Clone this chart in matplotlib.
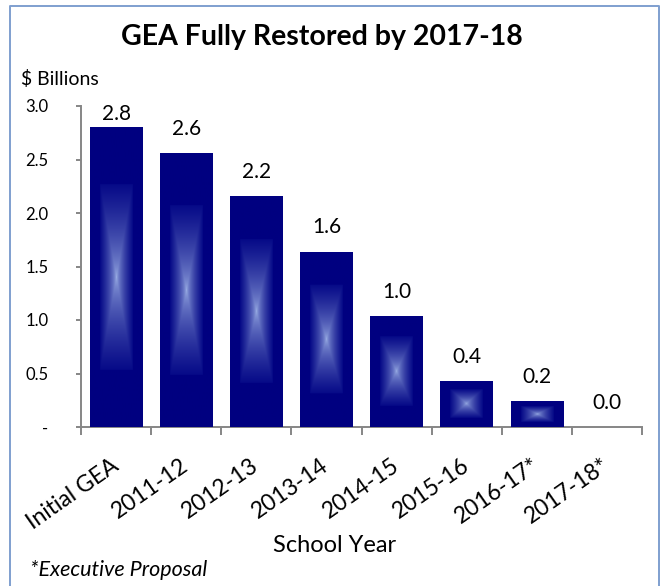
import numpy as np
import matplotlib
matplotlib.use("Agg")
import matplotlib.pyplot as plt
from matplotlib.lines import Line2D

plt.rcParams["font.family"] = ["Lato", "DejaVu Sans"]

years = ["Initial GEA", "2011-12", "2012-13", "2013-14", "2014-15",
         "2015-16", "2016-17*", "2017-18*"]
gea_billions = [2.80, 2.56, 2.16, 1.64, 1.04, 0.43, 0.24, 0.0]
y_ticks = [0.0, 0.5, 1.0, 1.5, 2.0, 2.5, 3.0]
y_tick_labels = ["-", "0.5", "1.0", "1.5", "2.0", "2.5", "3.0"]

W, H = 661, 586
NAVY = np.array([0, 0, 128]) / 255
GLOW_EDGE = np.array([6, 10, 136]) / 255
GLOW_MID = np.array([165, 186, 235]) / 255
AXIS_GREY = "#868686"
BORDER = "#7f9fcf"


def fx(x):
    return x / W


def fy(y):
    return 1 - y / H


def glow(w_px, h_px, inner=0.62):
    """Rectangular from-centre gradient: navy rim, pale core."""
    nx = max(int(w_px * 2), 4)
    ny = max(int(h_px * 2), 4)
    u = np.abs(np.linspace(-1, 1, nx))[None, :]
    v = np.abs(np.linspace(-1, 1, ny))[:, None]
    t = np.maximum(u, v)
    s = (np.clip(t / inner, 0, 1) ** 0.55)[..., None]
    img = GLOW_MID * (1 - s) + GLOW_EDGE * s
    return np.where(t[..., None] > inner, NAVY, img)


fig = plt.figure(figsize=(W / 100, H / 100), dpi=100)
ax = fig.add_axes([fx(81), fy(427), fx(642) - fx(81), fy(106) - fy(427)])

x = np.arange(len(years))
bars = ax.bar(x, gea_billions, width=0.75, color=NAVY, zorder=2)

ax.set_xlim(-0.5, len(years) - 0.5)
ax.set_ylim(0, 3.0)

# pixel scale of the axes, used to shape the glow in each bar
px_per_x = (642 - 81) / len(years)
px_per_y = (427 - 106) / 3.0

for bar, val in zip(bars, gea_billions):
    if val <= 0:
        continue
    x0 = bar.get_x()
    w = bar.get_width()
    im = ax.imshow(glow(w * px_per_x, val * px_per_y),
                   extent=(x0, x0 + w, 0, val), aspect="auto",
                   interpolation="bilinear", zorder=3)
    im.set_clip_path(bar)

ax.set_xlim(-0.5, len(years) - 0.5)
ax.set_ylim(0, 3.0)

# value labels, kept inside the plot area
ymax = ax.get_ylim()[1]
for i, val in enumerate(gea_billions):
    ax.text(i, min(val + 0.17, ymax - 0.13), f"{val:.1f}",
            ha="center", va="baseline", fontsize=15, color="black")

for side in ("top", "right"):
    ax.spines[side].set_visible(False)
for side in ("left", "bottom"):
    ax.spines[side].set_color(AXIS_GREY)
    ax.spines[side].set_linewidth(1.4)

ax.set_yticks(y_ticks)
ax.set_yticklabels(y_tick_labels)
ax.tick_params(axis="y", direction="out", length=3.5, width=1.4,
               color=AXIS_GREY, pad=20, labelsize=12)
for lab in ax.get_yticklabels():
    lab.set_horizontalalignment("right")

ax.set_xticks(x)
ax.set_xticklabels(years, rotation=35, ha="right", va="center",
                   rotation_mode="anchor", fontsize=16.5)
ax.set_xticks(np.arange(-0.5, len(years)), minor=True)
ax.tick_params(axis="x", which="major", length=0, pad=26)
ax.tick_params(axis="x", which="minor", direction="out", length=6,
               width=1.4, color=AXIS_GREY)

fig.text(fx(322), fy(45), "GEA Fully Restored by 2017-18", ha="center",
         va="baseline", fontsize=20.5, fontweight="bold")
fig.text(fx(21), fy(85), "$ Billions", ha="left", va="baseline", fontsize=14)
fig.text(fx(335), fy(552), "School Year", ha="center", va="baseline",
         fontsize=17)
fig.text(fx(30), fy(576), "*Executive Proposal", ha="left", va="baseline",
         fontsize=15.5, style="italic")

# chart frame (bottom edge runs off the canvas)
fig.add_artist(Line2D([fx(9.5), fx(9.5), fx(659), fx(659)],
                      [fy(600), fy(6), fy(6), fy(600)],
                      transform=fig.transFigure, color=BORDER, lw=1.4))

fig.savefig("out.png", dpi=100)
